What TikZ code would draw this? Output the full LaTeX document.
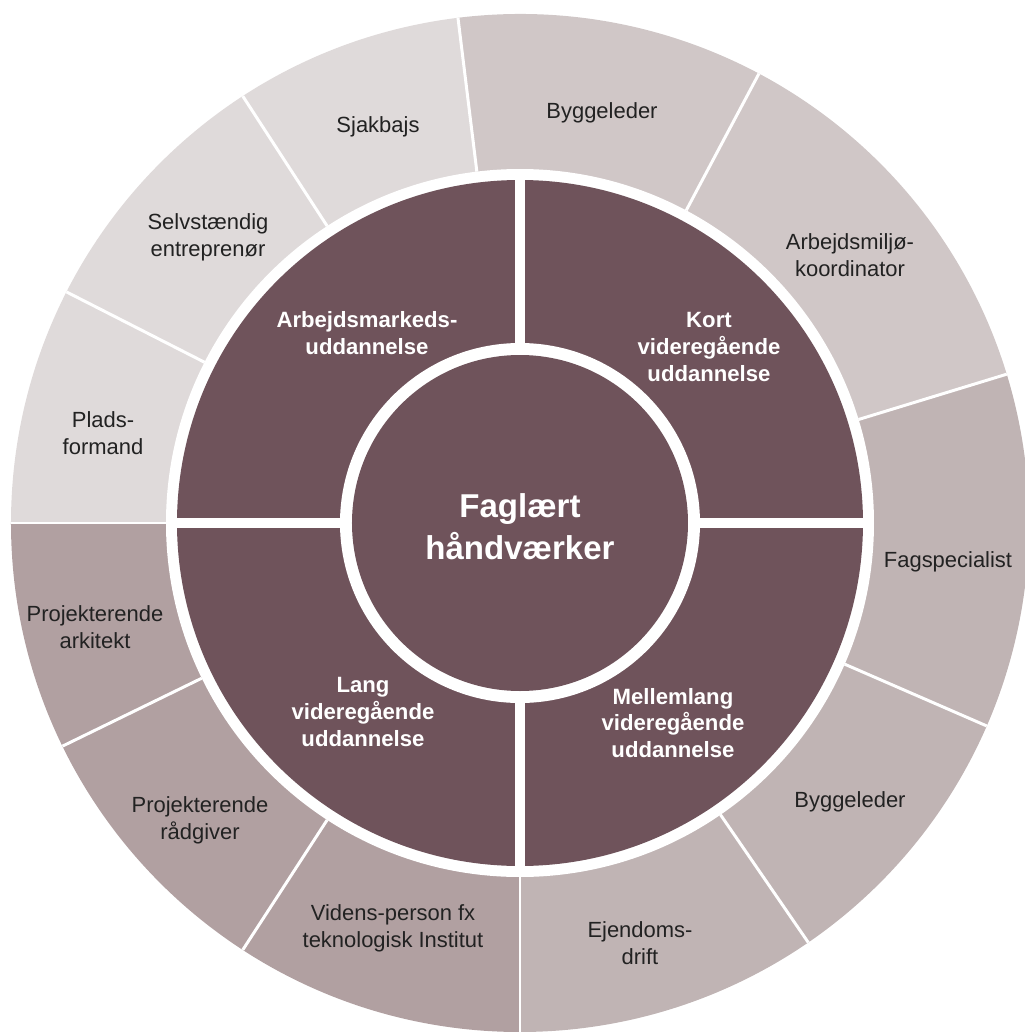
\documentclass[tikz,border=0pt]{standalone}
\usepackage{fontspec}
\setmainfont{Liberation Sans}
\usepackage{xcolor}
\usetikzlibrary{calc}
\definecolor{core}{HTML}{6F535B}
\definecolor{ringA}{HTML}{DFDADA}
\definecolor{ringB}{HTML}{D0C7C7}
\definecolor{ringC}{HTML}{C0B4B4}
\definecolor{ringD}{HTML}{B1A0A1}
\definecolor{ink}{HTML}{222222}
\tikzset{
  cut/.style={draw=white, line width=1.7pt},
  gap/.style={draw=white, line width=6pt},
  job/.style={text=ink, align=center, inner sep=0pt, font=\fontsize{12.5}{15.3}\selectfont},
  edu/.style={text=white, align=center, inner sep=0pt, font=\bfseries\fontsize{12.6}{15.2}\selectfont},
  hub/.style={text=white, align=center, inner sep=0pt, font=\bfseries\fontsize{18.8}{23.7}\selectfont},
}
\begin{document}
\begin{tikzpicture}[x=0.02cm, y=0.02cm]
  \useasboundingbox (-520,-509) rectangle (505,523);
  \clip (-520,-509) rectangle (505,523);
  \def\ro{509} \def\ri{354} \def\rd{343} \def\rw{180} \def\rc{168}
  \coordinate (O) at (0,0);
  % outer ring, four colour groups
  \fill[ringA] (O) -- (97:\ro) arc (97:180:\ro) -- cycle;
  \fill[ringB] (O) -- (17:\ro) arc (17:97:\ro) -- cycle;
  \fill[ringC] (O) -- (-90:\ro) arc (-90:17:\ro) -- cycle;
  \fill[ringD] (O) -- (180:\ro) arc (180:270:\ro) -- cycle;
  \foreach \a in {180,153,123,97,62,17,-23.5,-55.5,-90,-123,-154}
    \draw[cut] (\a:\ri) -- (\a:\ro);
  % inner ring
  \fill[white] (O) circle (\ri);
  \fill[core] (O) circle (\rd);
  \foreach \a in {0,90,180,270}
    \draw[gap] (\a:\rc) -- (\a:\ri);
  \fill[white] (O) circle (\rw);
  \fill[core] (O) circle (\rc);
  % labels
  \node[hub] (fag) at (0,-4) {Faglært\\håndværker};
  \node[edu] (amu) at (-153,190) {Arbejdsmarkeds-\\uddannelse};
  \node[edu] (kvu) at (189,176) {Kort\\videregående\\uddannelse};
  \node[edu] (mvu) at (153,-200) {Mellemlang\\videregående\\uddannelse};
  \node[edu] (lvu) at (-157,-189) {Lang\\videregående\\uddannelse};
  \node[job] (sjak) at (-142,396) {Sjakbajs};
  \node[job] (selv) at (-312,286) {Selvstændig\\entreprenør};
  \node[job] (plads) at (-417,90) {Plads-\\formand};
  \node[job] (bygA) at (82,410) {Byggeleder};
  \node[job] (arbm) at (330,268) {Arbejdsmiljø-\\koordinator};
  \node[job] (spec) at (428,-39) {Fagspecialist};
  \node[job] (bygB) at (330,-279) {Byggeleder};
  \node[job] (ejd) at (120,-420) {Ejendoms-\\drift};
  \node[job] (viden) at (-127,-405) {Videns-person fx\\teknologisk Institut};
  \node[job] (raad) at (-320,-297) {Projekterende\\rådgiver};
  \node[job] (ark) at (-425,-104) {Projekterende\\arkitekt};
\end{tikzpicture}
\end{document}
